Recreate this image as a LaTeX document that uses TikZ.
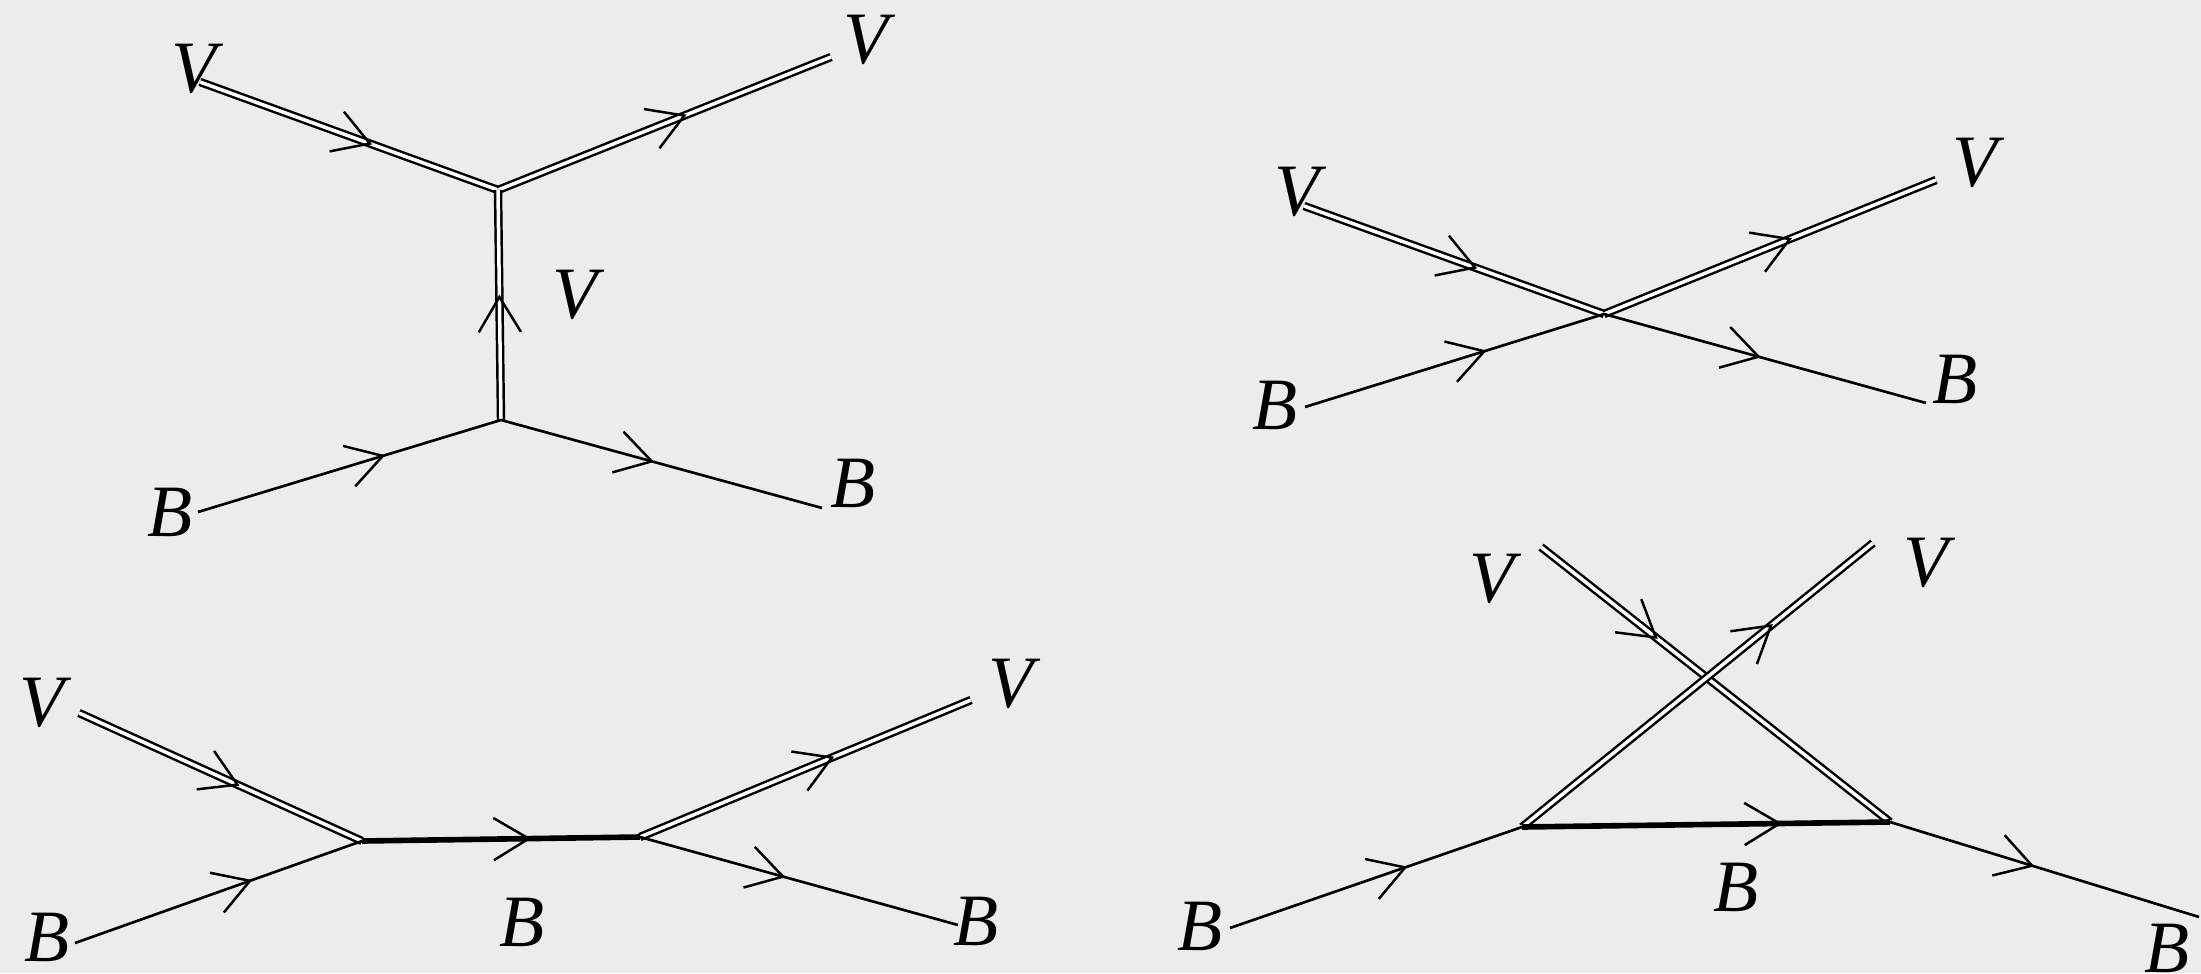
\documentclass[tikz,border=0pt]{standalone}
\usepackage{fontspec}
\setmainfont{Liberation Serif}
\usetikzlibrary{decorations.markings}
\definecolor{bg}{RGB}{236,236,236}
\tikzset{
  lbl/.style={font=\fontsize{21}{21}\selectfont\itshape, inner sep=0pt},
  sgl/.style={line width=0.75pt},
  dbl/.style={double, double distance=1pt, line width=0.7pt},
  thk/.style={line width=1.6pt},
  mk/.style={postaction={decorate}, decoration={markings, mark=at position #1 with {\draw[line width=0.7pt] (-10pt,6pt)--(0pt,0pt)--(-10pt,-6pt);}}},
}
\begin{document}
\begin{tikzpicture}[x=0.01cm, y=-0.01cm]
\fill[bg] (0,0) rectangle (2201,973);
\useasboundingbox (0,0) rectangle (2201,973);

% ---------- Diagram 1 ----------
\coordinate (a1) at (200,82);
\coordinate (a2) at (831,57);
\coordinate (a3) at (498,190);
\coordinate (a4) at (501,420);
\coordinate (a5) at (198,512);
\coordinate (a6) at (822,508);
\draw[dbl] (a1) -- (a3);
\draw[dbl] (a3) -- (a2);
\draw[dbl] (a4) -- (a3);
\draw[sgl] (a5) -- (a4) -- (a6);
\path[mk=0.57] (a1) -- (a3);
\path[mk=0.56] (a3) -- (a2);
\path[mk=0.535] (a4) -- (a3);
\path[mk=0.61] (a5) -- (a4);
\path[mk=0.47] (a4) -- (a6);
\node[lbl] (la1) at (194,69) {V};
\node[lbl] (la2) at (866,40) {V};
\node[lbl] (la3) at (575,295) {V};
\node[lbl] (la4) at (170,512) {B};
\node[lbl] (la5) at (853,483) {B};

% ---------- Diagram 2 ----------
\coordinate (b1) at (1304,206);
\coordinate (b2) at (1936,180);
\coordinate (b0) at (1604,314);
\coordinate (b3) at (1305,407);
\coordinate (b4) at (1926,403);
\draw[dbl] (b1) -- (b0);
\draw[dbl] (b0) -- (b2);
\draw[sgl] (b3) -- (b0) -- (b4);
\path[mk=0.57] (b1) -- (b0);
\path[mk=0.56] (b0) -- (b2);
\path[mk=0.60] (b3) -- (b0);
\path[mk=0.48] (b0) -- (b4);
\node[lbl] (lb1) at (1297,192) {V};
\node[lbl] (lb2) at (1975,163) {V};
\node[lbl] (lb3) at (1275,405) {B};
\node[lbl] (lb4) at (1955,379) {B};

% ---------- Diagram 3 ----------
\coordinate (c1) at (79,713);
\coordinate (c2) at (362,841);
\coordinate (c3) at (640,837);
\coordinate (c4) at (971,700);
\coordinate (c5) at (75,943);
\coordinate (c6) at (958,925);
\draw[dbl] (c1) -- (c2);
\draw[dbl] (c3) -- (c4);
\draw[sgl] (c5) -- (c2);
\draw[sgl] (c3) -- (c6);
\draw[thk] (c2) -- (c3);
\path[mk=0.56] (c1) -- (c2);
\path[mk=0.61] (c5) -- (c2);
\path[mk=0.60] (c2) -- (c3);
\path[mk=0.58] (c3) -- (c4);
\path[mk=0.45] (c3) -- (c6);
\node[lbl] (lc1) at (42,703) {V};
\node[lbl] (lc2) at (1011,684) {V};
\node[lbl] (lc3) at (47,937) {B};
\node[lbl] (lc4) at (522,922) {B};
\node[lbl] (lc5) at (976,921) {B};

% ---------- Diagram 4 ----------
\coordinate (d1) at (1541,547);
\coordinate (d2) at (1873,543);
\coordinate (d3) at (1522,827);
\coordinate (d4) at (1890,822);
\coordinate (d5) at (1230,928);
\coordinate (d6) at (2199,917);
\draw[dbl] (d1) -- (d4);
\draw[dbl] (d3) -- (d2);
\draw[sgl] (d5) -- (d3);
\draw[sgl] (d4) -- (d6);
\draw[thk] (d3) -- (d4);
\path[mk=0.33] (d1) -- (d4);
\path[mk=0.71] (d3) -- (d2);
\path[mk=0.60] (d5) -- (d3);
\path[mk=0.70] (d3) -- (d4);
\path[mk=0.46] (d4) -- (d6);
\node[lbl] (ld1) at (1492,579) {V};
\node[lbl] (ld2) at (1926,563) {V};
\node[lbl] (ld3) at (1200,926) {B};
\node[lbl] (ld4) at (1736,887) {B};
\node[lbl] (ld5) at (2167,948) {B};
\end{tikzpicture}
\end{document}
